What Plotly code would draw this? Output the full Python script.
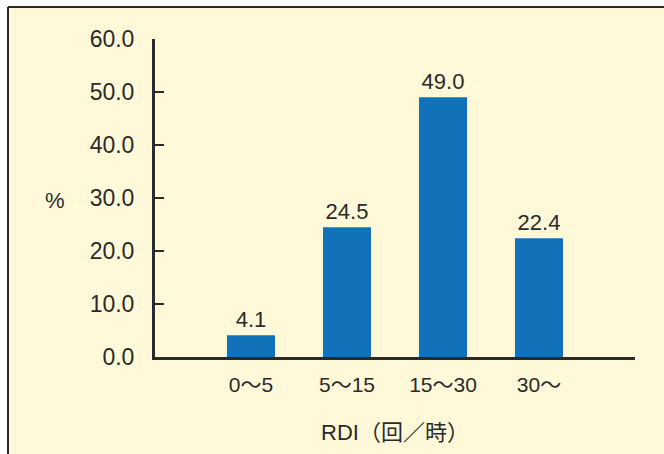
import plotly.graph_objects as go

# RDI distribution (% of patients per band)
categories = ["0〜5", "5〜15", "15〜30", "30〜"]
percent = [4.1, 24.5, 49.0, 22.4]
y_ticks = [0, 10, 20, 30, 40, 50, 60]

BG = "#FFF9D9"
BAR = "#1172B9"
INK = "#2A2A2A"
FONT = "Liberation Sans, Noto Sans CJK JP, sans-serif"

W, H = 664, 454
ML, MR, MT, MB = 155, 29, 39, 97
pw, ph = W - ML - MR, H - MT - MB


def px_x(p):
    return (p - ML) / pw


def px_y(p):
    return (H - MB - p) / ph


x_pos = list(range(len(categories)))

fig = go.Figure(
    go.Bar(
        x=x_pos,
        y=percent,
        width=0.5,
        marker=dict(color=BAR, line=dict(width=0)),
        text=[f"{v:.1f}" for v in percent],
        textposition="outside",
        textfont=dict(size=22, color=INK, family=FONT),
        cliponaxis=False,
        hoverinfo="skip",
    )
)

fig.update_layout(
    width=W,
    height=H,
    margin=dict(l=ML, r=MR, t=MT, b=MB),
    paper_bgcolor="white",
    plot_bgcolor="rgba(0,0,0,0)",
    showlegend=False,
    font=dict(family=FONT, color=INK, size=22),
    xaxis=dict(
        range=[-1, 4],
        tickvals=x_pos,
        ticktext=categories,
        showgrid=False,
        zeroline=False,
        showline=True,
        linecolor=INK,
        linewidth=3,
        ticks="",
        tickfont=dict(size=21),
        ticklabelstandoff=7,
        title=dict(text="RDI（回／時）", font=dict(size=22), standoff=30),
        fixedrange=True,
    ),
    yaxis=dict(
        range=[0, 60],
        tickvals=y_ticks,
        ticktext=[f"{v:.1f}" for v in y_ticks],
        showgrid=False,
        zeroline=False,
        showline=True,
        linecolor=INK,
        linewidth=3,
        ticks="inside",
        ticklen=9,
        tickwidth=2,
        tickcolor=INK,
        tickfont=dict(size=23),
        ticklabelstandoff=13,
        fixedrange=True,
    ),
    shapes=[
        # panel background with a frame on top and left
        dict(type="rect", xref="paper", yref="paper", layer="below",
             x0=px_x(8), x1=px_x(W + 2), y0=px_y(H + 2), y1=px_y(7),
             fillcolor=BG, line=dict(width=0)),
        dict(type="line", xref="paper", yref="paper", layer="below",
             x0=px_x(8), x1=px_x(W + 2), y0=px_y(7), y1=px_y(7),
             line=dict(color=INK, width=2)),
        dict(type="line", xref="paper", yref="paper", layer="below",
             x0=px_x(8), x1=px_x(8), y0=px_y(7), y1=px_y(H + 2),
             line=dict(color=INK, width=2)),
    ],
    annotations=[
        dict(text="%", xref="paper", yref="paper", x=px_x(55), y=px_y(200),
             showarrow=False, font=dict(size=22), xanchor="center", yanchor="middle"),
    ],
)

fig.write_html("out.html")
